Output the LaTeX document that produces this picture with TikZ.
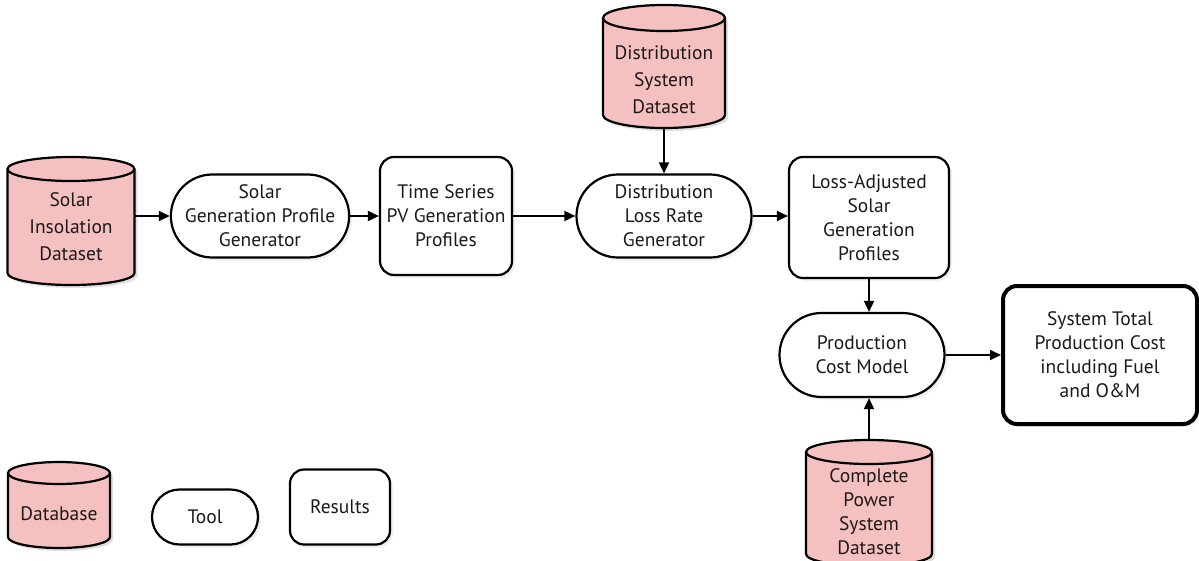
\documentclass[tikz,border=0pt]{standalone}
\usepackage{fontspec}
\setmainfont{PT Sans}
\usetikzlibrary{shapes.misc,arrows.meta,shadows}
\definecolor{dbpink}{RGB}{245,192,192}
\definecolor{ink}{RGB}{30,25,25}

% cylinder: #1 name, #2 centre x, #3 top y, #4 bottom y, #5 width, #6 ellipse radius, #7 text y, #8 line skip, #9 text
\newcommand\dbcyl[9]{%
  \fill[black,opacity=0.12] ({#2-#5/2+3},{-(#3)-(#6)-3}) -- ({#2-#5/2+3},{-(#4)+(#6)-3})
     arc (180:360:{#5/2} and #6) -- ({#2+#5/2+3},{-(#3)-(#6)-3})
     arc (0:180:{#5/2} and #6) -- cycle;
  \filldraw[cylline,fill=dbpink] ({#2-#5/2},{-(#3)-(#6)}) -- ({#2-#5/2},{-(#4)+(#6)})
     arc (180:360:{#5/2} and #6) -- ({#2+#5/2},{-(#3)-(#6)})
     arc (0:180:{#5/2} and #6) -- cycle;
  \draw[cylline] ({#2-#5/2},{-(#3)-(#6)}) arc (180:360:{#5/2} and #6);
  \node[inner sep=0pt,minimum width=#5,minimum height={#4-#3}] (#1) at ({#2},{-(#3+#4)/2}) {};
  \node[txt,baselineskip=#8] at ({#2},{-(#7)}) {#9};
}

\tikzset{
  baselineskip/.style={font=\fontsize{19.5}{#1}\selectfont},
  txt/.style={text=ink,align=center,inner sep=0pt,baselineskip=24},
  cylline/.style={line width=2.2pt,line join=round},
  shade/.style={drop shadow={opacity=0.12,shadow xshift=3pt,shadow yshift=-3pt}},
  tool/.style={rounded rectangle,draw,line width=2.2pt,fill=white,shade,txt},
  result/.style={rectangle,rounded corners=14pt,draw,line width=2.2pt,fill=white,shade,txt},
  flow/.style={line width=1.8pt,-{Triangle[length=11pt,width=10pt]}}
}

\begin{document}
\begin{tikzpicture}[x=1pt,y=1pt]
\useasboundingbox (0,0) rectangle (1199,-560);
\clip (0,0) rectangle (1199,-560);

% datasets
\dbcyl{sid}{71}{157}{285}{127}{12}{227}{27}{Solar\\Insolation\\Dataset}
\dbcyl{dsd}{664}{5}{128}{122}{13}{80}{27}{Distribution\\System\\Dataset}
\dbcyl{cps}{869}{440}{566}{126}{12}{512}{24}{Complete\\Power\\System\\Dataset}

% tools
\node[tool,minimum width=175pt,minimum height=83pt] (sgp) at (260,-216) {Solar\\Generation Profile\\Generator};
\node[tool,minimum width=175pt,minimum height=83pt] (dlr) at (664,-216) {Distribution\\Loss Rate\\Generator};
\node[tool,minimum width=165pt,minimum height=84pt] (pcm) at (862,-355) {Production\\Cost Model};

% results
\node[result,minimum width=132pt,minimum height=118pt] (tsp) at (446,-216) {Time Series\\PV Generation\\Profiles};
\node[result,minimum width=160pt,minimum height=121pt] (las) at (869,-217.5) {Loss-Adjusted\\Solar\\Generation\\Profiles};
\node[result,line width=4pt,minimum width=194pt,minimum height=138pt] (stc) at (1100,-355) {System Total\\Production Cost\\including Fuel\\and O\&M};

% flow
\draw[flow] (sgp.west -| sid.east) -- (sgp.west);
\draw[flow] (sgp.east) -- (tsp.west);
\draw[flow] (tsp.east) -- (dlr.west);
\draw[flow] (dlr.east) -- (dlr.east -| las.west);
\draw[flow] (dsd.south) -- (dlr.north);
\draw[flow] (las.south) -- (las.south |- pcm.north);
\draw[flow] (pcm.east) -- (stc.west);
\draw[flow] (cps.north) -- (cps.north |- pcm.south);

% legend
\dbcyl{lgdb}{59}{462}{548}{102}{11}{514}{24}{Database}
\node[tool,minimum width=106pt,minimum height=55pt] (lgtool) at (205,-517) {Tool};
\node[result,minimum width=100pt,minimum height=75pt] (lgres) at (340,-507) {Results};
\end{tikzpicture}
\end{document}
